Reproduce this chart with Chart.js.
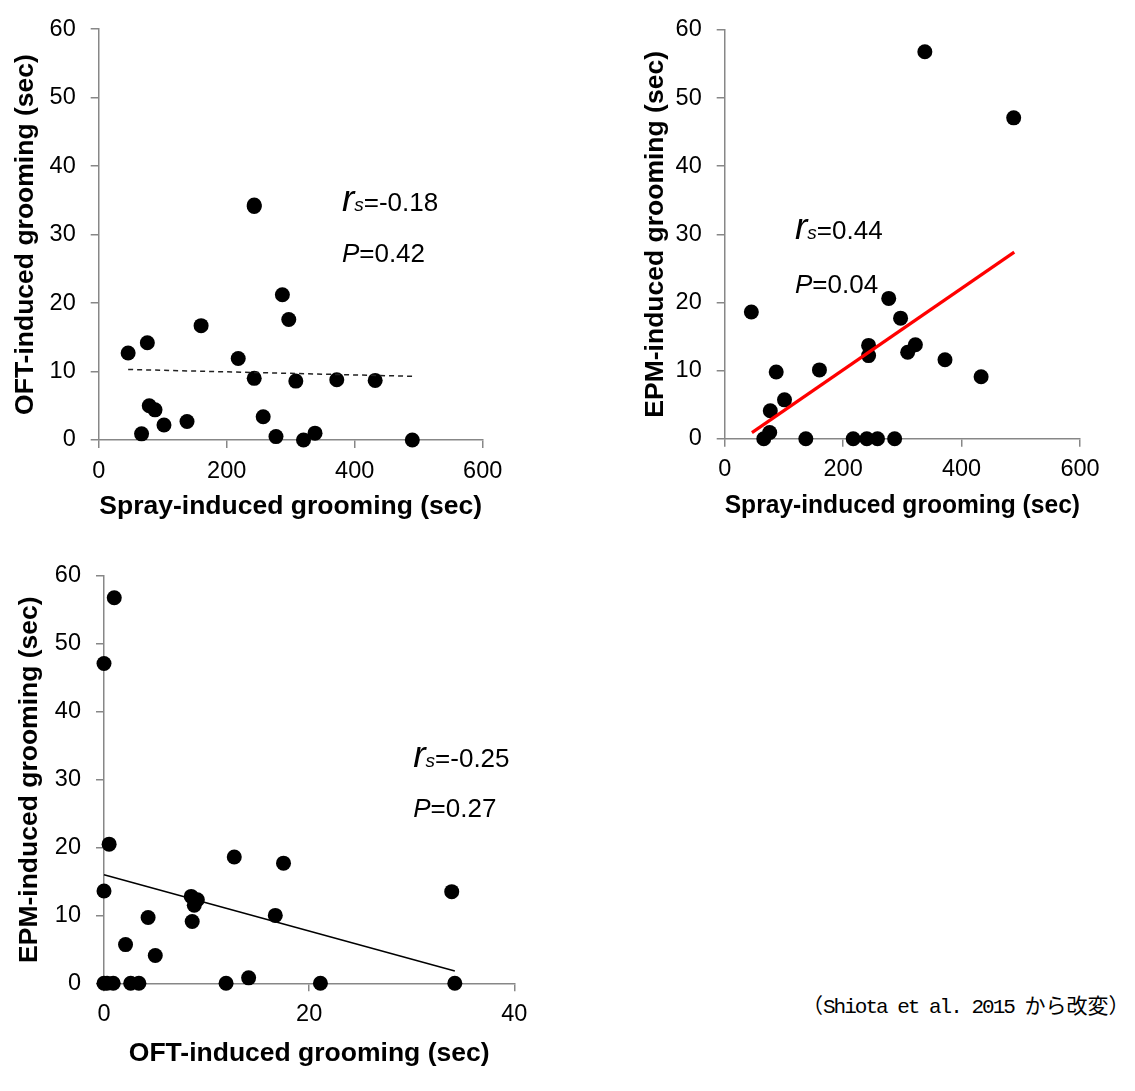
<!DOCTYPE html>
<html>
<head>
<meta charset="utf-8">
<script src="https://cdn.jsdelivr.net/npm/chart.js@4.4.0/dist/chart.umd.min.js"></script>
<style>
  body { margin: 0; background: #fff; width: 1135px; height: 1091px; position: relative; overflow: hidden; }
  .box { position: absolute; }
  #source { position: absolute; left: 802px; top: 989px; font-size: 21px; font-family: "Liberation Mono", "Noto Sans CJK JP", monospace; white-space: pre; color: #000; }
  #source .lat { letter-spacing: -2px; }
</style>
</head>
<body>
<div class="box" id="b1" style="left:0px;top:0px;width:560px;height:540px"><canvas id="c1"></canvas></div>
<div class="box" id="b2" style="left:580px;top:0px;width:555px;height:540px"><canvas id="c2"></canvas></div>
<div class="box" id="b3" style="left:0px;top:540px;width:560px;height:551px"><canvas id="c3"></canvas></div>
<div id="source">（<span class="lat">Shiota et al. 2015 </span>から改変）</div>

<script>
// --- data ---
// panel 1: spray vs OFT
const spray1 = [46, 76, 160, 218, 243, 243, 287, 297, 243, 308, 372, 432, 79, 88, 102, 138, 67, 257, 277, 320, 338, 490];
const oft1   = [12.7, 14.2, 16.7, 11.9, 34.1, 34.3, 21.2, 17.6, 9.0, 8.6, 8.8, 8.7, 5.0, 4.4, 2.2, 2.7, 0.9, 3.4, 0.5, 0, 1.0, 0];
const fit1X = [46, 490];
const fit1Y = [10.3, 9.3];

// panel 2: spray vs EPM
const spray2 = [338, 488, 45, 277, 297, 243, 243, 309, 322, 372, 433, 87, 160, 101, 77, 76, 66, 137, 217, 240, 258, 287];
const epm2   = [56.8, 47.1, 18.6, 20.6, 17.7, 13.7, 12.2, 12.7, 13.8, 11.6, 9.1, 9.8, 10.1, 5.7, 4.1, 0.9, 0, 0, 0, 0, 0, 0];
const fit2X = [46, 489];
const fit2Y = [0.9, 27.4];

// panel 3: OFT vs EPM
const oft3 = [1.0, 0, 0.5, 0, 12.7, 17.5, 33.9, 8.5, 9.1, 8.8, 8.6, 4.3, 16.7, 2.1, 5.0, 14.1, 0, 0.3, 0.9, 2.6, 3.4, 11.9, 21.1, 34.2];
const epm3 = [56.8, 47.1, 20.5, 13.6, 18.6, 17.7, 13.5, 12.8, 12.3, 11.5, 9.1, 9.7, 10.0, 5.7, 4.1, 0.8, 0, 0, 0, 0, 0, 0, 0, 0];
const fit3X = [0, 34.2];
const fit3Y = [16.0, 1.8];

// axis ticks
const sprayTicks = [0, 200, 400, 600];
const oftTicks = [0, 20, 40];
const groomTicks = [0, 10, 20, 30, 40, 50, 60];

// stats text
const stats1 = ['=-0.18', '=0.42'];
const stats2 = ['=0.44', '=0.04'];
const stats3 = ['=-0.25', '=0.27'];

const FONT = '"Liberation Sans", Arial, sans-serif';
const AXIS_GREY = '#878787';
const X_AXIS_H = 90;

function toPoints(xs, ys) {
  return xs.map((x, i) => ({ x: x, y: ys[i] }));
}

// draws the r_s / P labels inside the plot
const statsPlugin = {
  id: 'stats',
  afterDatasetsDraw(chart, args, opts) {
    if (!opts || !opts.text) return;
    const ctx = chart.ctx;
    const px = chart.scales.x.getPixelForValue(opts.at[0]);
    const y1 = chart.scales.y.getPixelForValue(opts.at[1]);
    const y2 = chart.scales.y.getPixelForValue(opts.at[2]);
    ctx.save();
    ctx.fillStyle = '#000';
    ctx.textAlign = 'left';
    ctx.textBaseline = 'alphabetic';
    ctx.font = 'italic 37px ' + FONT;
    ctx.fillText('r', px, y1);
    let w = ctx.measureText('r').width;
    ctx.font = 'italic 19px ' + FONT;
    ctx.fillText('s', px + w, y1);
    w += ctx.measureText('s').width;
    ctx.font = '26px ' + FONT;
    ctx.fillText(opts.text[0], px + w, y1);

    ctx.font = 'italic 26px ' + FONT;
    ctx.fillText('P', px, y2);
    const wp = ctx.measureText('P').width;
    ctx.font = '26px ' + FONT;
    ctx.fillText(opts.text[1], px + wp, y2);
    ctx.restore();
  }
};

function makeChart(canvasId, p) {
  const b = p.box;
  const a = p.area;
  const padLeft = p.yTitleX - b.left - 15.9;
  const layoutPad = {
    left: padLeft,
    top: a.top - b.top,
    right: b.left + b.width - a.right,
    bottom: b.top + b.height - a.bottom - X_AXIS_H
  };

  const datasets = [
    {
      data: toPoints(p.fitX, p.fitY),
      showLine: true,
      borderColor: p.fitColor,
      borderWidth: p.fitWidth,
      borderDash: p.fitDash || [],
      pointRadius: 0,
      fill: false,
      clip: false,
      order: 0
    },
    {
      data: toPoints(p.xs, p.ys),
      pointRadius: 7.5,
      pointBackgroundColor: '#000',
      pointBorderWidth: 0,
      clip: false,
      order: 1
    }
  ];

  return new Chart(document.getElementById(canvasId), {
    type: 'scatter',
    data: { datasets: datasets },
    options: {
      responsive: true,
      maintainAspectRatio: false,
      animation: false,
      events: [],
      layout: { padding: layoutPad },
      plugins: {
        legend: { display: false },
        tooltip: { enabled: false },
        stats: { at: p.statsAt, text: p.stats }
      },
      scales: {
        x: {
          type: 'linear',
          min: p.xTicks[0],
          max: p.xTicks[p.xTicks.length - 1],
          afterBuildTicks: s => { s.ticks = p.xTicks.map(v => ({ value: v })); },
          afterFit: s => { s.height = X_AXIS_H; },
          border: { color: AXIS_GREY, width: 1.5 },
          grid: { drawOnChartArea: false, color: AXIS_GREY, lineWidth: 1.5, tickLength: 8 },
          ticks: { color: '#000', padding: 9, font: { family: FONT, size: 23.5 } },
          title: {
            display: true,
            text: p.xTitle,
            color: '#000',
            font: { family: FONT, size: 26.5, weight: 'bold' },
            padding: { top: 0, bottom: X_AXIS_H - 15.9 - p.xTitleDy }
          }
        },
        y: {
          type: 'linear',
          min: 0,
          max: 60,
          afterBuildTicks: s => { s.ticks = groomTicks.map(v => ({ value: v })); },
          afterFit: s => { s.width = a.left - b.left - padLeft; },
          border: { color: AXIS_GREY, width: 1.5 },
          grid: { drawOnChartArea: false, color: AXIS_GREY, lineWidth: 1.5, tickLength: 8 },
          ticks: { color: '#000', padding: 15, font: { family: FONT, size: 23.5 } },
          title: {
            display: true,
            text: p.yTitle,
            color: '#000',
            font: { family: FONT, size: 26.5, weight: 'bold' },
            padding: { top: 0, bottom: 0 }
          }
        }
      }
    },
    plugins: [statsPlugin]
  });
}

makeChart('c1', {
  box: { left: 0, top: 0, width: 560, height: 540 },
  area: { left: 98.7, top: 28, right: 482.7, bottom: 440 },
  yTitleX: 25.5,
  xs: spray1, ys: oft1,
  fitX: fit1X, fitY: fit1Y, fitColor: '#222', fitWidth: 1.5, fitDash: [5, 4],
  xTicks: sprayTicks,
  xTitle: 'Spray-induced grooming (sec)',
  xTitleDy: 67,
  yTitle: 'OFT-induced grooming (sec)',
  statsAt: [380, 33.4, 26.0],
  stats: stats1
});

makeChart('c2', {
  box: { left: 580, top: 0, width: 555, height: 540 },
  area: { left: 724.7, top: 30, right: 1080, bottom: 438.7 },
  yTitleX: 655.5,
  xs: spray2, ys: epm2,
  fitX: fit2X, fitY: fit2Y, fitColor: '#ff0000', fitWidth: 3.2,
  xTicks: sprayTicks,
  xTitle: 'Spray-induced grooming (sec)',
  xTitleDy: 67,
  yTitle: 'EPM-induced grooming (sec)',
  statsAt: [118.7, 29.3, 21.35],
  stats: stats2
});

makeChart('c3', {
  box: { left: 0, top: 540, width: 560, height: 551 },
  area: { left: 104, top: 576, right: 514.3, bottom: 983.3 },
  yTitleX: 30,
  xs: oft3, ys: epm3,
  fitX: fit3X, fitY: fit3Y, fitColor: '#000', fitWidth: 1.5,
  xTicks: oftTicks,
  xTitle: 'OFT-induced grooming (sec)',
  xTitleDy: 70,
  yTitle: 'EPM-induced grooming (sec)',
  statsAt: [30.15, 31.9, 24.45],
  stats: stats3
});
</script>
</body>
</html>
